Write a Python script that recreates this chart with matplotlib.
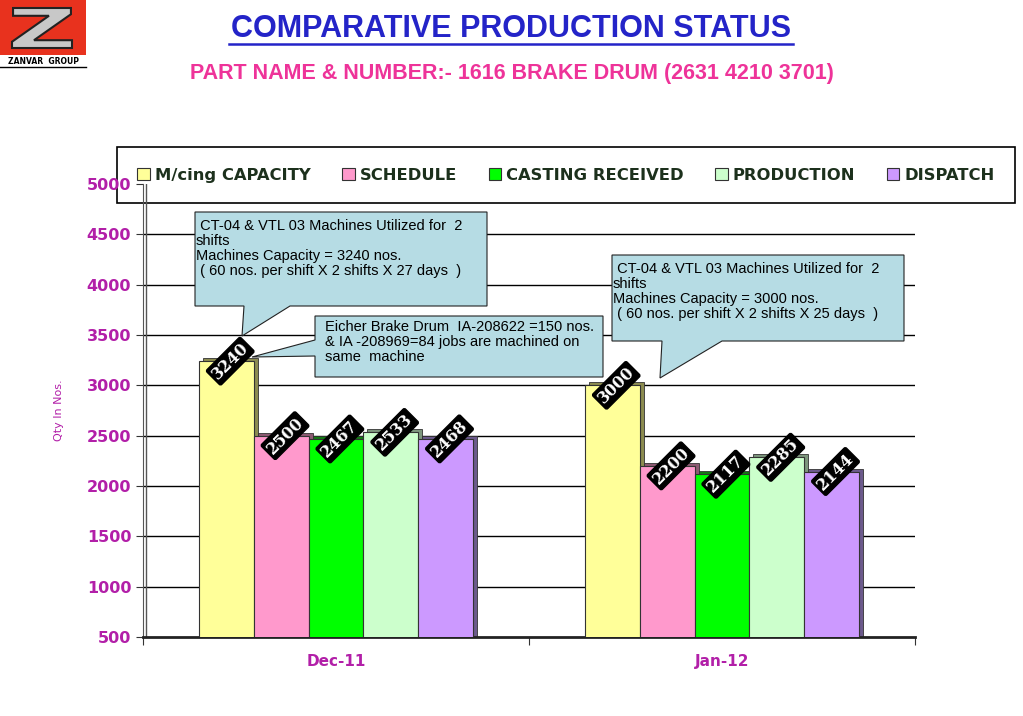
import numpy as np
import matplotlib.pyplot as plt
from matplotlib.patches import Polygon, Rectangle, PathPatch
from matplotlib.lines import Line2D
from matplotlib.textpath import TextPath
from matplotlib.font_manager import FontProperties
from matplotlib.transforms import ScaledTranslation, Affine2D
import matplotlib.patheffects as pe

months = ['Dec-11', 'Jan-12']
series = ['M/cing CAPACITY', 'SCHEDULE', 'CASTING RECEIVED', 'PRODUCTION', 'DISPATCH']
capacity = [3240, 3000]
schedule = [2500, 2200]
casting = [2467, 2117]
production = [2533, 2285]
dispatch = [2468, 2144]
values = [capacity, schedule, casting, production, dispatch]
colors = ['#ffff99', '#ff99cc', '#00ff00', '#ccffcc', '#cc99ff']
side_colors = ['#8c8c50', '#8c5a72', '#137a13', '#7d967d', '#6c5a8c']
yticks = np.arange(500, 5001, 500)

notes = [
    ' CT-04 & VTL 03 Machines Utilized for  2\nshifts\nMachines Capacity = 3240 nos.\n ( 60 nos. per shift X 2 shifts X 27 days  )',
    ' CT-04 & VTL 03 Machines Utilized for  2\nshifts\nMachines Capacity = 3000 nos.\n ( 60 nos. per shift X 2 shifts X 25 days  )',
    'Eicher Brake Drum  IA-208622 =150 nos.\n& IA -208969=84 jobs are machined on\nsame  machine',
]

W, H = 1023, 716
fig = plt.figure(figsize=(W / 100, H / 100), dpi=100)


def fp(x, y):
    # pixel (from top left) -> figure fraction
    return (x / W, 1 - y / H)


ax = fig.add_axes([143 / W, 1 - 637 / H, (915 - 143) / W, (637 - 184) / H])
ax.set_xlim(0, 2)
ax.set_ylim(500, 5000)
ax.patch.set_visible(False)

purple = '#b21fa8'
bw = 0.142
x0 = np.arange(len(months)) + 0.5
shift = ax.transData + ScaledTranslation(4 / 100, 3 / 100, fig.dpi_scale_trans)
for i, name in enumerate(series):
    xs = x0 + (i - 2) * bw
    ax.bar(xs, values[i], bw, color=side_colors[i], edgecolor='#333333',
           linewidth=0.6, transform=shift, zorder=2)
    ax.bar(xs, values[i], bw, color=colors[i], edgecolor='#333333',
           linewidth=0.8, zorder=3, label=name)
    for x, v in zip(xs, values[i]):
        ax.text(x + 0.01, v, str(v), rotation=45, ha='center', va='center',
                color='white', fontsize=11.5, fontweight='bold', family='DejaVu Serif',
                zorder=6,
                bbox=dict(boxstyle='round,pad=0.12', fc='black', ec='black'))

# gridlines (the top one is hidden by the legend box)
ax.hlines(yticks[1:-1], 0, 2, color='black', linewidth=1, zorder=1)
ax.set_yticks(yticks)
ax.tick_params(axis='y', colors='#333333', labelcolor=purple, labelsize=11.5, length=5)
for t in ax.get_yticklabels():
    t.set_fontweight('bold')
ax.set_xticks([0, 1, 2])
ax.set_xticklabels([])
ax.set_xticks(x0, minor=True)
ax.set_xticklabels(months, minor=True)
ax.tick_params(axis='x', which='major', length=6, color='#333333')
ax.tick_params(axis='x', which='minor', length=0, pad=12, labelcolor=purple, labelsize=11)
for t in ax.get_xticklabels(minor=True):
    t.set_fontweight('bold')
for s in ['top', 'right']:
    ax.spines[s].set_visible(False)
ax.spines['left'].set_color('#555555')
ax.spines['bottom'].set_color('#222222')
ax.spines['bottom'].set_linewidth(2)
ax.axvline(0.008, color='#555555', linewidth=1, zorder=1)
ax.set_ylabel('Qty In Nos.', color=purple, fontsize=8, labelpad=16)

# legend, drawn beneath the axes so the 5000 label stays on top
handles = [Rectangle((0, 0), 1, 1, fc=c, ec='#333333', lw=0.8) for c in colors]
leg = fig.legend(handles, series, loc='lower left', ncol=5, mode='expand',
                 bbox_to_anchor=(117 / W, 1 - 203 / H, (1015 - 117) / W, 55 / H),
                 borderaxespad=0, frameon=True, fancybox=False, edgecolor='black',
                 framealpha=1, handlelength=0.75, handleheight=0.75, handletextpad=0.3,
                 borderpad=1.25, prop={'weight': 'bold', 'size': 11.8})
leg.get_frame().set_linewidth(1.2)
leg.set_zorder(-1)
for t in leg.get_texts():
    t.set_color('#1c301c')

# callouts (pixel outlines of the text boxes)
box_fc = '#b6dce4'
shapes = [
    [(195, 212), (487, 212), (487, 306), (290, 306), (242, 336), (244, 306), (195, 306)],
    [(612, 255), (904, 255), (904, 341), (722, 341), (660, 378), (662, 341), (612, 341)],
    [(315, 316), (603, 316), (603, 377), (315, 377), (315, 356), (252, 357), (315, 340)],
]
for pts in shapes:
    fig.add_artist(Polygon([fp(*p) for p in pts], closed=True, fc=box_fc, ec='#222222',
                           lw=0.8, transform=fig.transFigure, zorder=5))
note_pos = [(196, 219), (613, 262), (325, 320)]
for (px, py), s in zip(note_pos, notes):
    fig.text(*fp(px, py), s, ha='left', va='top', fontsize=10.5, family='Liberation Sans',
             linespacing=1.1, zorder=7)

# titles
fig.text(*fp(511, 29), 'COMPARATIVE PRODUCTION STATUS', ha='center', va='center',
         color='#2424c8', fontsize=22, fontweight='bold', family='Liberation Sans')
fig.add_artist(Line2D([229 / W, 793 / W], [1 - 44 / H, 1 - 44 / H], color='#2424c8', lw=1.8))
fig.text(*fp(512, 73), 'PART NAME & NUMBER:- 1616 BRAKE DRUM (2631 4210 3701)',
         ha='center', va='center', color='#ee3399', fontsize=15.5, fontweight='bold',
         family='Liberation Sans')

# logo: red tile with a stretched Z
fig.add_artist(Rectangle(fp(0, 55), 86 / W, 55 / H, fc='#e8321e', ec='none',
                         transform=fig.transFigure))
zp = TextPath((0, 0), 'Z', size=10, prop=FontProperties(family='DejaVu Sans', weight='bold'))
ext = zp.get_extents()
zx0, zy0 = fp(12, 48)
zx1, zy1 = fp(72, 8)
zt = Affine2D().translate(-ext.x0, -ext.y0).scale((zx1 - zx0) / ext.width,
                                                  (zy1 - zy0) / ext.height).translate(zx0, zy0)
fig.add_artist(PathPatch(zp, fc='#c8c8c8', ec='#222222', lw=1.5,
                         transform=zt + fig.transFigure))
fig.text(*fp(43, 62), 'ZANVAR  GROUP', ha='center', va='center', fontsize=5.5,
         fontweight='bold', color='black')
fig.add_artist(Line2D([0, 86 / W], [1 - 67 / H, 1 - 67 / H], color='black', lw=1))

fig.savefig('out.png', dpi=100)
